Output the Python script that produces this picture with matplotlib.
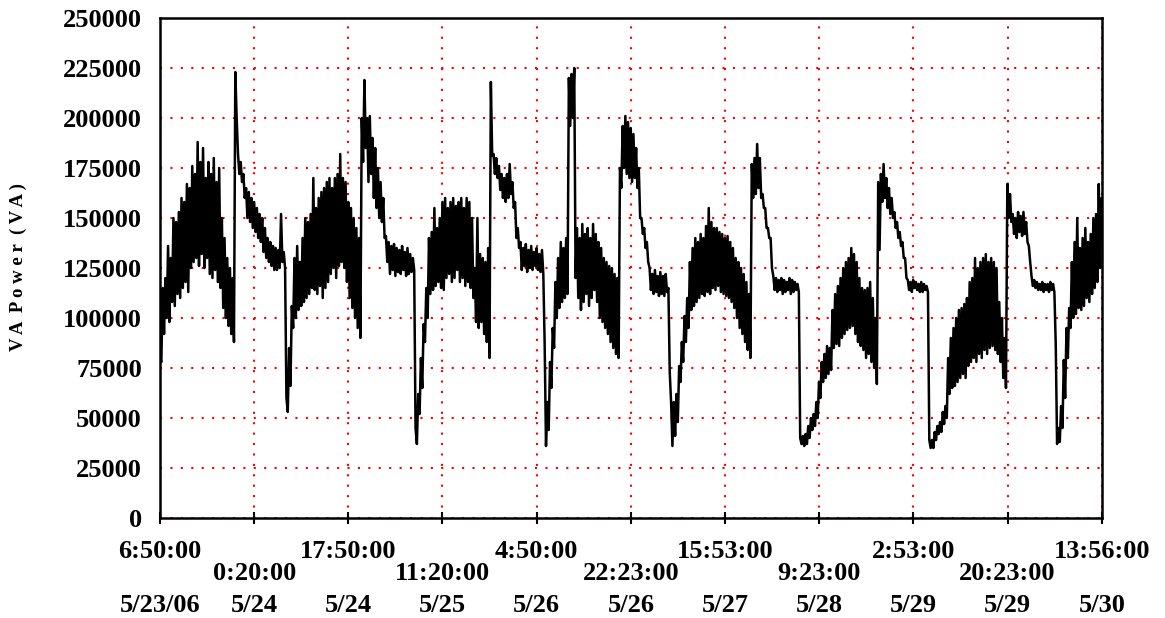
import numpy as np
import pandas as pd
import matplotlib
matplotlib.use("Agg")
import matplotlib.pyplot as plt
import matplotlib.dates as mdates
import matplotlib.transforms as mtransforms

# VA power, highest and lowest reading (thousands of VA) in each 30 minute
# slot, starting 5/23/06 6:50
va_hi_k = [
    80, 115, 120, 136, 130, 150, 148, 153, 160, 158, 167, 165, 176, 172, 188,
    178, 185, 170, 178, 172, 180, 168, 175, 150, 140, 130, 125, 120,
    223,
    182, 178, 172, 165, 163, 160, 158, 155, 152, 150, 145, 140, 138, 136, 135,
    134, 152, 133,
    60, 85, 106,
    130, 136, 128, 140, 150, 148, 152, 170, 155, 160, 163, 165,
    168, 170, 165, 170, 172, 182, 170, 168, 158, 155, 150, 145, 140,
    200, 219, 200, 201,
    190, 185, 175, 168, 160,
    141,
    138, 136, 137, 135, 134, 136, 133, 135, 132, 130,
    45, 62, 80, 97, 115,
    140, 143, 155, 145, 150, 158, 160, 155, 158, 160, 156, 158, 160, 155, 160,
    158, 150,
    125, 150, 132, 130, 128, 135,
    218,
    182, 180, 176, 172, 170, 172, 177, 168,
    158, 145,
    138, 135, 137, 134, 136, 133, 135, 132, 134,
    87, 58, 78, 95, 118,
    130, 138, 135, 140,
    220, 222, 225,
    145, 140, 147, 142, 145, 140, 147, 142,
    138, 135, 130, 128, 126, 125, 122, 120,
    175, 196,
    201, 198, 195, 192, 185,
    175, 150, 145, 138,
    125, 122, 124, 121, 123, 121, 122,
    115, 58, 58, 62, 76, 88, 101, 110,
    128, 135, 140, 138, 142, 140, 146, 155, 148, 145, 145, 143, 142, 140, 141,
    138,
    135, 130, 128, 125, 122, 118, 112,
    177, 180, 187, 180,
    162, 155, 145,
    140,
    121, 120, 119, 120, 119, 118, 120, 119, 118, 117,
    40,
    41, 42, 46, 50, 52, 58,
    68, 78,
    82, 86, 85,
    104, 112, 116, 120, 125, 128, 130, 135, 132,
    128, 120, 115, 114, 115, 118, 110, 100,
    168, 172, 177, 170, 165, 160,
    153, 148, 143, 138,
    130,
    119, 118, 119, 118, 117, 118, 117, 116,
    39, 39, 43, 46, 48, 53, 56,
    80, 90, 95, 100, 104, 105, 107,
    110, 118, 120, 130, 125, 128, 130, 132, 128, 130, 128, 125,
    108, 100, 90,
    167, 162,
    152, 150, 153, 151, 153, 148,
    136,
    121, 119, 118, 117, 118, 117, 117, 118, 117,
    87, 45, 56, 79, 95, 105,
    128, 138, 150, 135, 140, 145, 138, 142,
    150, 152, 167, 160,
]

va_lo_k = [
    78, 92, 100, 98, 108, 106, 112, 110, 115, 118, 113, 125, 128, 130, 126,
    132, 125, 130, 122, 120, 124, 118, 115, 105, 100, 96, 92, 88,
    200,
    172, 168, 160, 150, 148, 145, 143, 140, 138, 133, 130, 128, 126, 124, 124,
    125, 128, 125,
    53, 66, 95,
    100, 104, 106, 108, 110, 112, 115, 114, 112, 116, 110, 115,
    118, 122, 125, 120, 126, 128, 125, 118, 110, 105, 100, 95, 90,
    178, 185, 168, 172,
    160, 155, 150, 148, 140,
    128,
    122, 124, 121, 123, 122, 124, 121, 122, 123, 124,
    37, 52, 65, 88, 100,
    112, 114, 116, 118, 115, 114, 120, 122, 118, 120, 124, 118, 120, 116, 118,
    115, 110,
    98, 95, 98, 92, 88, 80,
    181,
    172, 170, 164, 160, 158, 160, 162, 155,
    140, 135,
    124, 126, 123, 125, 124, 126, 124, 123, 122,
    36, 44, 65, 85, 100,
    105, 108, 110, 112,
    196, 200, 120,
    110, 104, 108, 112, 106, 110, 114, 108,
    100, 98, 95, 92, 88, 85, 82, 80,
    165, 175,
    172, 170, 168, 170, 165,
    150, 142, 135, 128,
    114, 112, 113, 111, 112, 111, 113,
    73, 36, 41, 48, 68, 78, 88, 95,
    104, 106, 108, 110, 112, 111, 113, 112, 115, 114, 116, 113, 112, 111, 110,
    108,
    105, 100, 95, 92, 88, 84, 80,
    160, 162, 165, 160,
    155, 145, 140,
    125,
    114, 113, 114, 112, 113, 114, 112, 113, 114, 113,
    37,
    36, 37, 40, 44, 46, 50,
    60, 68,
    70, 72, 74,
    85, 87, 86, 90, 92, 94, 95, 96, 92,
    88, 86, 84, 80, 82, 78, 75, 67,
    134, 158, 160, 155, 152, 150,
    145, 140, 136, 130,
    120,
    114, 113, 115, 114, 113, 113, 114, 113,
    35, 35, 39, 42, 43, 47, 50,
    62, 65, 66, 68, 70, 72, 70,
    76, 78, 80, 78, 82, 80, 84, 82, 85, 86, 84, 82,
    78, 70, 65,
    150, 148,
    142, 140, 143, 141, 142, 138,
    128,
    116, 115, 114, 114, 113, 114, 113, 114, 113,
    37, 38, 45, 60, 80, 95,
    100, 102, 105, 104, 106, 110, 108, 112,
    115, 118, 125, 150,
]

tick_times = ["2006-05-23 06:50", "2006-05-24 00:20", "2006-05-24 17:50",
              "2006-05-25 11:20", "2006-05-26 04:50", "2006-05-26 22:23",
              "2006-05-27 15:53", "2006-05-28 09:23", "2006-05-29 02:53",
              "2006-05-29 20:23", "2006-05-30 13:56"]
time_labels = ["6:50:00", "0:20:00", "17:50:00", "11:20:00", "4:50:00", "22:23:00",
               "15:53:00", "9:23:00", "2:53:00", "20:23:00", "13:56:00"]
date_labels = ["5/23/06", "5/24", "5/24", "5/25", "5/26", "5/26",
               "5/27", "5/28", "5/29", "5/29", "5/30"]
y_ticks = [0, 25000, 50000, 75000, 100000, 125000, 150000, 175000, 200000, 225000, 250000]

# max reading first, min reading 15 minutes later in each slot
t_hi = pd.date_range("2006-05-23 06:50", periods=len(va_hi_k), freq="30min")
t_lo = t_hi + pd.Timedelta(minutes=15)
t = np.column_stack([t_hi.values, t_lo.values]).ravel()
va = np.column_stack([va_hi_k, va_lo_k]).ravel() * 1000
ticks = pd.to_datetime(tick_times)

plt.rcParams['font.family'] = ['Liberation Serif', 'DejaVu Serif']
plt.rcParams['font.weight'] = 'bold'

fig = plt.figure(figsize=(11.65, 6.18), dpi=100)
ax = fig.add_axes([160/1165, 1-518/618, 942/1165, 500/618])

ax.plot(t, va, color='black', lw=1.8, zorder=3)

ax.set_xlim(ticks[0], ticks[-1])
ax.set_ylim(0, 250000)
ax.set_yticks(y_ticks)
ax.set_yticklabels([str(v) for v in y_ticks], fontsize=19, fontweight='bold')
ax.set_xticks(ticks)
ax.set_xticklabels([])

ax.grid(True, color='red', linestyle=(0, (1, 4)), lw=1.5, zorder=1)
for s in ax.spines.values():
    s.set_linewidth(1.8)
    s.set_color('black')
ax.tick_params(axis='y', length=0, pad=13)
ax.tick_params(axis='x', direction='inout', length=8, width=1.5)

trans = mtransforms.blended_transform_factory(ax.transData, ax.transAxes)
for i, (tk, tl, dl) in enumerate(zip(ticks, time_labels, date_labels)):
    xn = mdates.date2num(tk)
    row = -0.066 if i % 2 == 0 else -0.112
    ax.text(xn, row, tl, transform=trans, ha='center', va='center',
            fontsize=19, fontweight='bold')
    ax.text(xn, -0.176, dl, transform=trans, ha='center', va='center',
            fontsize=19, fontweight='bold')

fig.text(18/1165, 1-267/618, 'V A  P o w e r  ( V A )', rotation=90, ha='center', va='center',
         fontsize=13.5, fontweight='bold')

fig.savefig('out.png', dpi=100)
